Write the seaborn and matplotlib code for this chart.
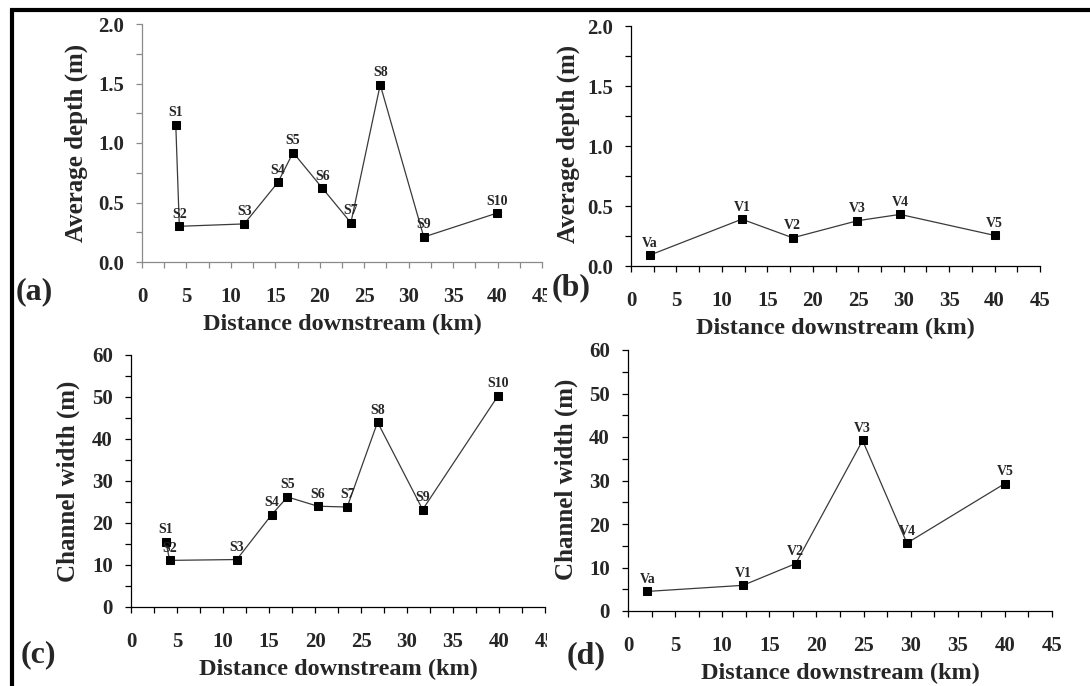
import matplotlib
matplotlib.use("Agg")
import matplotlib.pyplot as plt
import seaborn as sns
import pandas as pd
from matplotlib.ticker import MultipleLocator, FormatStrFormatter
from matplotlib.transforms import Bbox, TransformedBbox
from matplotlib.lines import Line2D

# ---------------- data ----------------
s_sites = ["S1", "S2", "S3", "S4", "S5", "S6", "S7", "S8", "S9", "S10"]
s_dist = [3.8, 4.2, 11.5, 15.3, 17.0, 20.3, 23.5, 26.8, 31.7, 39.9]
s_depth = [1.155, 0.30, 0.32, 0.67, 0.92, 0.62, 0.33, 1.49, 0.21, 0.41]
s_width = [15.5, 11.1, 11.3, 22.0, 26.2, 24.0, 23.8, 44.0, 23.2, 50.3]

v_sites = ["Va", "V1", "V2", "V3", "V4", "V5"]
v_dist = [2.05, 12.2, 17.8, 24.9, 29.6, 40.0]
v_depth = [0.09, 0.39, 0.235, 0.377, 0.43, 0.255]
v_width = [4.5, 5.9, 10.9, 39.2, 15.6, 29.3]

x_label = "Distance downstream (km)"
depth_label = "Average depth (m)"
width_label = "Channel width (m)"
panel_tags = ["(a)", "(b)", "(c)", "(d)"]

# ---------------- style ----------------
sns.set_style("ticks")
plt.rcParams["font.family"] = ["Liberation Serif", "DejaVu Serif"]
plt.rcParams["font.weight"] = "bold"

W, H = 1090, 686
fig = plt.figure(figsize=(W / 100, H / 100), dpi=100)
fig.patch.set_facecolor("white")


def rect(l, r, t, b):
    return [l / W, 1 - b / H, (r - l) / W, (b - t) / H]


panels = [
    dict(pos=(142, 542, 24, 262), x=s_dist, y=s_depth, lab=s_sites, ylab=depth_label,
         ylim=(0, 2.0), ymaj=0.5, ymin=0.25, fmt="%.1f", spine="#8a8a8a", clip=True,
         tag_xy=(16, 292), ylab_xy=(-0.135, 0.50)),
    dict(pos=(631, 1040, 26, 266), x=v_dist, y=v_depth, lab=v_sites, ylab=depth_label,
         ylim=(0, 2.0), ymaj=0.5, ymin=0.25, fmt="%.1f", spine="black", clip=False,
         tag_xy=(552, 288), ylab_xy=(-0.125, 0.51)),
    dict(pos=(131, 545, 355, 607), x=s_dist, y=s_width, lab=s_sites, ylab=width_label,
         ylim=(0, 60), ymaj=10, ymin=5, fmt="%d", spine="black", clip=True,
         tag_xy=(21, 655), ylab_xy=(-0.123, 0.50)),
    dict(pos=(628, 1052, 350, 611), x=v_dist, y=v_width, lab=v_sites, ylab=width_label,
         ylim=(0, 60), ymaj=10, ymin=5, fmt="%d", spine="black", clip=False,
         tag_xy=(567, 656), ylab_xy=(-0.118, 0.505)),
]

for i, p in enumerate(panels):
    ax = fig.add_axes(rect(*p["pos"]))
    ax.set_facecolor("none")
    df = pd.DataFrame({"dist": p["x"], "val": p["y"], "site": p["lab"]})
    sns.lineplot(data=df, x="dist", y="val", ax=ax, sort=False, color="#3a3a3a",
                 linewidth=0.9, marker="s", markersize=5.5, markerfacecolor="black",
                 markeredgecolor="black", clip_on=False)
    for xv, yv, name in zip(p["x"], p["y"], p["lab"]):
        ax.annotate(name, (xv, yv), xytext=(0, 4), textcoords="offset points",
                    ha="center", va="bottom", fontsize=10, fontweight="bold")
    ax.set_xlim(0, 45)
    ax.set_ylim(*p["ylim"])
    ax.set_xticks(list(range(0, 50, 5)))
    ax.xaxis.set_minor_locator(MultipleLocator(2.5))
    ax.yaxis.set_major_locator(MultipleLocator(p["ymaj"]))
    ax.yaxis.set_minor_locator(MultipleLocator(p["ymin"]))
    ax.yaxis.set_major_formatter(FormatStrFormatter(p["fmt"]))
    for s in ["top", "right"]:
        ax.spines[s].set_visible(False)
    for s in ["left", "bottom"]:
        ax.spines[s].set_color(p["spine"])
        ax.spines[s].set_linewidth(0.9)
    ax.tick_params(axis="x", which="both", direction="out", length=4, width=0.9,
                   color=p["spine"], labelsize=15, pad=14)
    ax.tick_params(axis="y", which="both", direction="out", length=4, width=0.9,
                   color=p["spine"], labelsize=15, pad=9)
    for lbl in ax.get_xticklabels() + ax.get_yticklabels():
        lbl.set_fontweight("bold")
    ax.set_xlabel(x_label, fontsize=17.5, fontweight="bold", labelpad=5)
    ax.set_ylabel(p["ylab"], fontsize=18, fontweight="bold")
    ax.yaxis.set_label_coords(*p["ylab_xy"])
    if p["clip"]:
        cb = TransformedBbox(Bbox.from_extents(0, 0, 547 / W, 1), fig.transFigure)
        for t in ax.xaxis.get_major_ticks():
            t.label1.set_clip_box(cb)
            t.label1.set_clip_on(True)
    tx, ty = p["tag_xy"]
    fig.text(tx / W, 1 - ty / H, panel_tags[i], fontsize=23, fontweight="bold",
             ha="left", va="center")

# outer border (top and left)
fig.add_artist(Line2D([10 / W, 1], [1 - 10 / H, 1 - 10 / H], transform=fig.transFigure,
                      color="black", linewidth=3.0, solid_capstyle="butt"))
fig.add_artist(Line2D([11.5 / W, 11.5 / W], [0, 1 - 8.5 / H], transform=fig.transFigure,
                      color="black", linewidth=3.0, solid_capstyle="butt"))

fig.savefig("out.png", dpi=100)
